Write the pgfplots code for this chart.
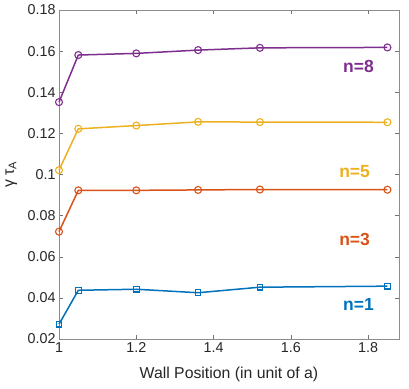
\documentclass[border=0pt]{standalone}
\usepackage{pgfplots}
\pgfplotsset{compat=1.18}
\usepackage{fontspec}
\setmainfont{Liberation Sans}

\definecolor{mblue}{rgb}{0,0.447,0.741}
\definecolor{morange}{rgb}{0.85,0.325,0.098}
\definecolor{myellow}{rgb}{0.929,0.694,0.125}
\definecolor{mpurple}{rgb}{0.494,0.184,0.556}
\definecolor{mtext}{rgb}{0.15,0.15,0.15}

\begin{document}
\begin{tikzpicture}
\begin{axis}[
  scale only axis,
  width=340bp, height=329bp,
  xmin=1, xmax=1.88, ymin=0.02, ymax=0.18,
  xtick={1,1.2,1.4,1.6,1.8},
  ytick={0.02,0.04,0.06,0.08,0.1,0.12,0.14,0.16,0.18},
  xticklabels={1,1.2,1.4,1.6,1.8},
  yticklabels={0.02,0.04,0.06,0.08,0.1,0.12,0.14,0.16,0.18},
  /pgf/number format/assume math mode=true,
  tick align=inside,
  major tick length=4bp,
  tick style={black!55, line width=0.5bp},
  axis line style={black!45, line width=0.6bp},
  tick label style={font=\fontsize{14.3bp}{16bp}\selectfont, text=mtext},
  xlabel={Wall Position (in unit of a)},
  ylabel={γ τ\textsubscript{A}},
  xlabel style={font=\fontsize{15.8bp}{18bp}\selectfont, text=mtext,
    at={(axis description cs:0.5,0)}, anchor=center, yshift=-35bp},
  ylabel style={font=\fontsize{15.8bp}{18bp}\selectfont, text=mtext,
    at={(axis description cs:-0.113,0.5)}, anchor=south},
  clip=false,
]
% n=1
\addplot[mblue, line width=1.5bp, mark=square, mark size=2.8bp, mark options={line width=1.1bp}] coordinates {
  (1,0.0272)(1.05,0.0437)(1.2,0.0442)(1.36,0.0425)(1.52,0.0452)(1.85,0.0457)
};
% n=3
\addplot[morange, line width=1.5bp, mark=o, mark size=3.5bp, mark options={line width=1.1bp}] coordinates {
  (1,0.0722)(1.05,0.0923)(1.2,0.0923)(1.36,0.0925)(1.52,0.0927)(1.85,0.0926)
};
% n=5
\addplot[myellow, line width=1.5bp, mark=o, mark size=3.5bp, mark options={line width=1.1bp}] coordinates {
  (1,0.1021)(1.05,0.1222)(1.2,0.1238)(1.36,0.1256)(1.52,0.1255)(1.85,0.1254)
};
% n=8
\addplot[mpurple, line width=1.5bp, mark=o, mark size=3.5bp, mark options={line width=1.1bp}] coordinates {
  (1,0.1352)(1.05,0.1581)(1.2,0.1589)(1.36,0.1605)(1.52,0.1616)(1.85,0.1618)
};
\node[font=\fontsize{17.5bp}{20bp}\selectfont\bfseries, text=mblue] at (axis cs:1.775,0.037) {n=1};
\node[font=\fontsize{17.5bp}{20bp}\selectfont\bfseries, text=morange] at (axis cs:1.765,0.0685) {n=3};
\node[font=\fontsize{17.5bp}{20bp}\selectfont\bfseries, text=myellow] at (axis cs:1.765,0.1015) {n=5};
\node[font=\fontsize{17.5bp}{20bp}\selectfont\bfseries, text=mpurple] at (axis cs:1.775,0.1523) {n=8};
\end{axis}
\pgfresetboundingbox
\path[use as bounding box] ([xshift=-59bp,yshift=-49bp]current axis.south west) rectangle ([xshift=10bp,yshift=10bp]current axis.north east);
\end{tikzpicture}
\end{document}
